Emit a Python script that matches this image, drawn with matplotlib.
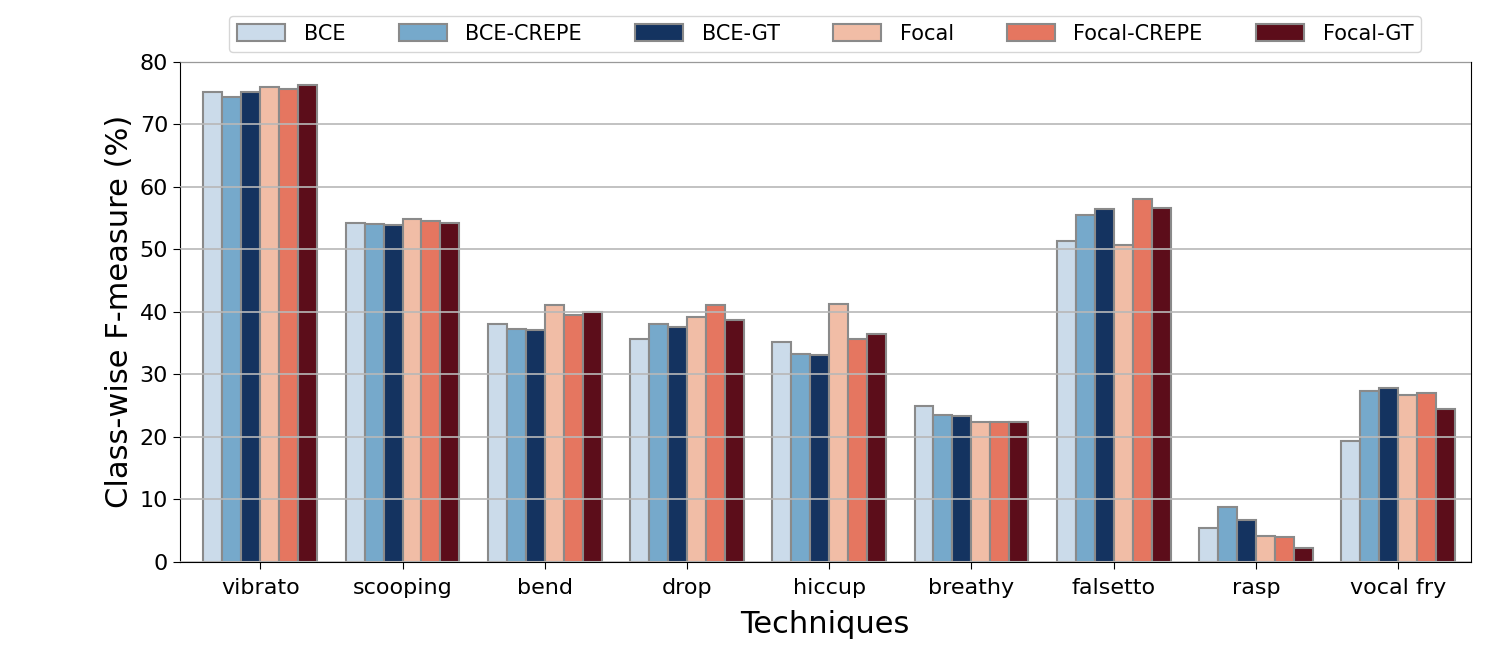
import matplotlib.pyplot as plt
import numpy as np

techniques = ['vibrato', 'scooping', 'bend', 'drop', 'hiccup', 'breathy', 'falsetto', 'rasp', 'vocal fry']
methods = ['BCE', 'BCE-CREPE', 'BCE-GT', 'Focal', 'Focal-CREPE', 'Focal-GT']

bce = [75.2, 54.2, 38.0, 35.7, 35.2, 24.9, 51.3, 5.4, 19.4]
bce_crepe = [74.4, 54.1, 37.3, 38.0, 33.2, 23.5, 55.4, 8.7, 27.3]
bce_gt = [75.2, 53.8, 37.1, 37.6, 33.0, 23.3, 56.4, 6.7, 27.8]
focal = [75.9, 54.9, 41.1, 39.2, 41.3, 22.3, 50.7, 4.2, 26.7]
focal_crepe = [75.6, 54.5, 39.4, 41.1, 35.7, 22.3, 58.0, 3.9, 27.0]
focal_gt = [76.3, 54.2, 39.9, 38.6, 36.5, 22.3, 56.6, 2.2, 24.4]

colors = ['#cbdbea', '#76a9cb', '#143360', '#f1bda6', '#e57660', '#5c0d1a']

scores = [bce, bce_crepe, bce_gt, focal, focal_crepe, focal_gt]

fig = plt.figure(figsize=(14.87, 6.48), dpi=100)
ax = fig.add_axes([0.121, 0.133, 0.868, 0.772])

x = np.arange(len(techniques))
width = 0.8 / len(methods)
for i, (name, vals) in enumerate(zip(methods, scores)):
    ax.bar(x + (i - 2.5) * width, vals, width, label=name, color=colors[i],
           edgecolor='#8a8a8a', linewidth=1.5)

ax.set_xticks(x)
ax.set_xticklabels(techniques, fontsize=16)
ax.tick_params(axis='both', labelsize=16, length=5)
ax.tick_params(axis='x', pad=7)
ax.set_xlim(-0.565, 8.51)
ax.set_ylim(0, 80)
ax.set_yticks(range(0, 81, 10))
ax.yaxis.grid(True, color='#b8b8b8', linewidth=1.2)
ax.set_axisbelow(False)
for spine in ax.spines.values():
    spine.set_color('black')
ax.set_xlabel('Techniques', fontsize=22, labelpad=8)
ax.set_ylabel('Class-wise F-measure (%)', fontsize=22)

ax.legend(loc='lower center', bbox_to_anchor=(0.5, 1.0), ncol=6, fontsize=15,
          frameon=True, handlelength=2.3, handleheight=0.85, handletextpad=0.9,
          columnspacing=2.55, borderaxespad=0.45)

fig.savefig('out.png', dpi=100)
